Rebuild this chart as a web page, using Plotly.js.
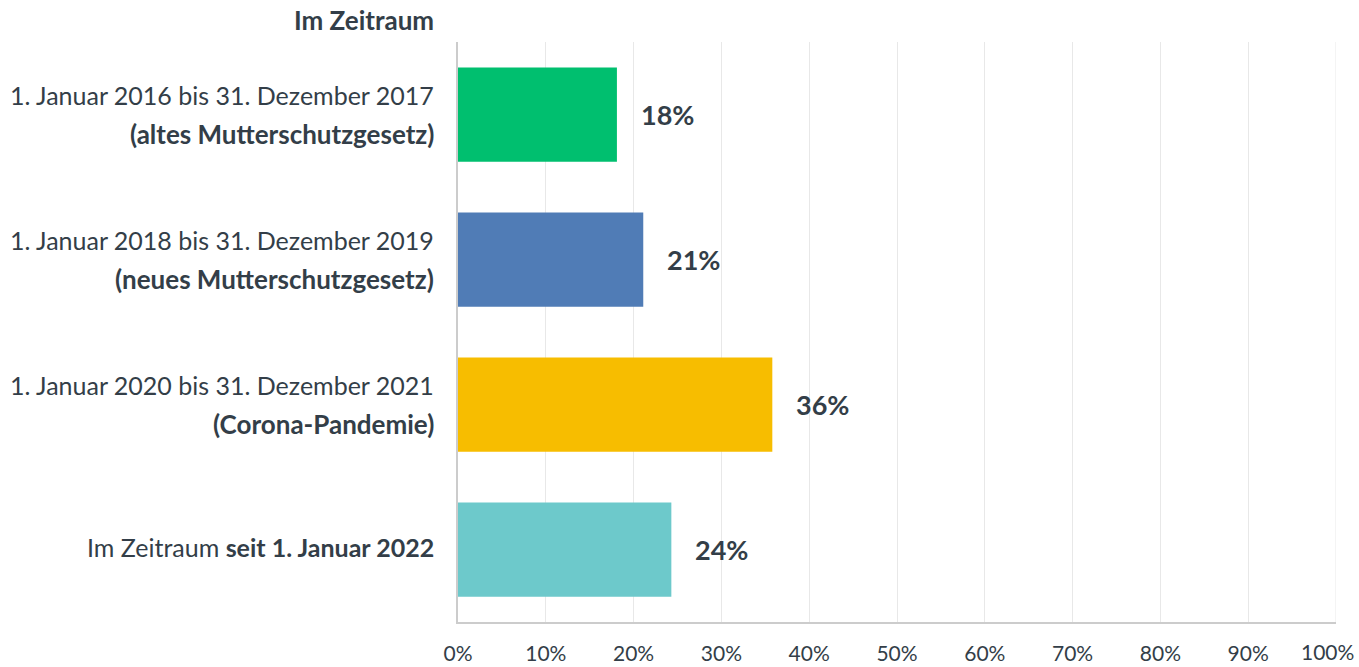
<!DOCTYPE html>
<html><head><meta charset="utf-8">
<script src="https://cdn.plot.ly/plotly-3.0.1.min.js"></script>
<style>html,body{margin:0;padding:0;background:#fff}#chart{width:1359px;height:667px}</style>
</head><body><div id="chart"></div>
<script>
const categories = ["c2016", "c2018", "c2020", "c2022"];
const labelLine1 = ["1. Januar 2016 bis 31. Dezember 2017", "1. Januar 2018 bis 31. Dezember 2019", "1. Januar 2020 bis 31. Dezember 2021", "Im Zeitraum <b>seit 1. Januar 2022</b>"];
const labelLine2 = ["<b>(altes Mutterschutzgesetz)</b>", "<b>(neues Mutterschutzgesetz)</b>", "<b>(Corona-Pandemie)</b>", ""];
const values = [18.1, 21.1, 35.8, 24.3];
const valueLabels = ["18%", "21%", "36%", "24%"];
const colors = ["#00bf6f", "#507cb6", "#f7bd00", "#6dc9cb"];
const xTickVals = [0,10,20,30,40,50,60,70,80,90,100];
const xTickText = ["0%","10%","20%","30%","40%","50%","60%","70%","80%","90%","100%"];
const headerText = "<b>Im Zeitraum</b>";

const FONT = "'Source Sans Pro', Lato, Roboto, sans-serif";
const TXT = "#333e48";

const annotations = [];
categories.forEach((c, i) => {
  if (labelLine2[i]) {
    annotations.push({xref:'x', yref:'y', x:0, y:c, xanchor:'right', yanchor:'middle', xshift:-22, yshift:20, text:labelLine1[i], showarrow:false, font:{family:FONT,size:25,color:TXT}});
    annotations.push({xref:'x', yref:'y', x:0, y:c, xanchor:'right', yanchor:'middle', xshift:-22, yshift:-19, text:labelLine2[i], showarrow:false, font:{family:FONT,size:26,color:TXT}});
  } else {
    annotations.push({xref:'x', yref:'y', x:0, y:c, xanchor:'right', yanchor:'middle', xshift:-22, yshift:3, text:labelLine1[i], showarrow:false, font:{family:FONT,size:25,color:TXT}});
  }
  annotations.push({xref:'x', yref:'y', x:values[i], y:c, xanchor:'left', yanchor:'middle', xshift:22, text:'<b>'+valueLabels[i]+'</b>', showarrow:false, font:{family:FONT,size:27,color:TXT}});
});
annotations.push({xref:'x', yref:'paper', x:0, y:1, xanchor:'right', yanchor:'bottom', xshift:-22, yshift:4, text:headerText, showarrow:false, font:{family:FONT,size:26,color:TXT}});
// last tick label, nudged inward so it fits inside the page
const lastIdx = xTickVals.length - 1;
annotations.push({xref:'x', yref:'paper', x:xTickVals[lastIdx], y:0, xanchor:'center', yanchor:'top', xshift:-9, yshift:-15, text:xTickText[lastIdx], showarrow:false, font:{family:FONT,size:21,color:TXT}});

const data = [{
  type:'bar', orientation:'h', x:values, y:categories,
  marker:{color:colors}, width:0.65, hoverinfo:'none'
}];

const layout = {
  width:1359, height:667,
  margin:{l:458, r:23, t:42, b:45},
  paper_bgcolor:'#fff', plot_bgcolor:'#fff',
  showlegend:false,
  font:{family:FONT, color:TXT},
  xaxis:{range:[0,100], tickvals:xTickVals.slice(0, lastIdx), ticktext:xTickText.slice(0, lastIdx), showgrid:true, gridcolor:'#e8e8e8', gridwidth:1,
         zeroline:false, showline:true, linecolor:'#cccccc', linewidth:2, mirror:false, ticks:'', ticklabelstandoff:12,
         tickfont:{family:FONT, size:21, color:TXT}, fixedrange:true},
  yaxis:{categoryorder:'array', categoryarray:categories, autorange:false, range:[3.5,-0.5],
         showticklabels:false, showgrid:false, zeroline:false, showline:true, linecolor:'#cccccc', linewidth:2, ticks:'', fixedrange:true},
  shapes:[{type:'line', xref:'x', yref:'paper', x0:xTickVals[lastIdx], x1:xTickVals[lastIdx], y0:0, y1:1, line:{color:'#e8e8e8', width:1}, layer:'below'}],
  annotations:annotations
};
Plotly.newPlot('chart', data, layout, {displayModeBar:false, staticPlot:true});
</script></body></html>
